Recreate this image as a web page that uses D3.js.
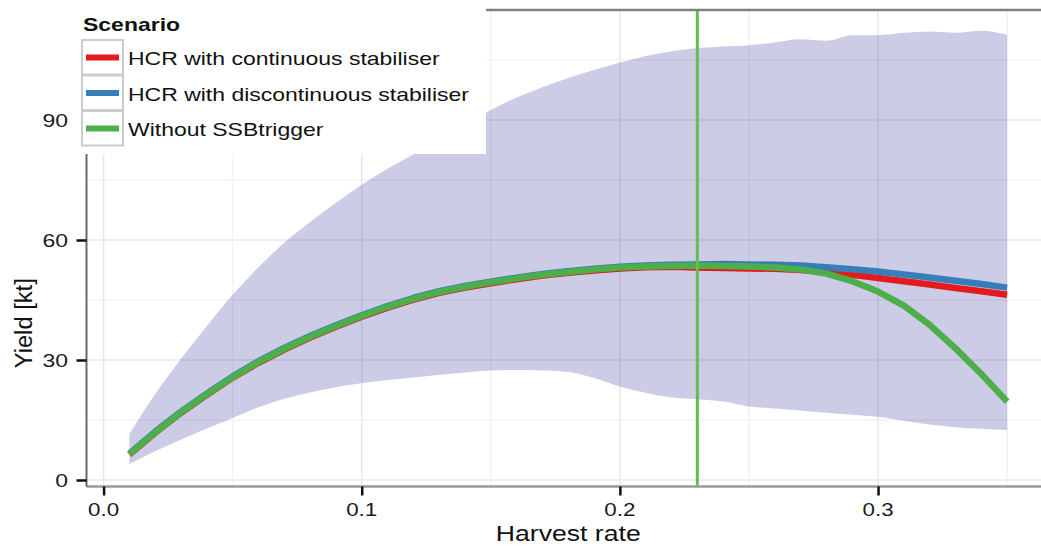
<!DOCTYPE html>
<html>
<head>
<meta charset="utf-8">
<script src="https://cdn.jsdelivr.net/npm/d3@7/dist/d3.min.js"></script>
<style>
  html, body { margin: 0; padding: 0; background: #ffffff; }
  svg { display: block; font-family: "Liberation Sans", Arial, Helvetica, sans-serif; }
</style>
</head>
<body>
<svg id="chart" width="1041" height="548"></svg>
<script>
// Harvest rates simulated
const harvestRate = [0.01, 0.02, 0.03, 0.04, 0.05, 0.06, 0.07, 0.08, 0.09, 0.10,
  0.11, 0.12, 0.13, 0.14, 0.15, 0.16, 0.17, 0.18, 0.19, 0.20,
  0.21, 0.22, 0.23, 0.24, 0.25, 0.26, 0.27, 0.28, 0.29, 0.30,
  0.31, 0.32, 0.33, 0.34, 0.35];

// Median yield [kt] per scenario
const yieldContinuous = [6.4, 11.8, 16.8, 21.3, 25.6, 29.3, 32.6, 35.6, 38.3, 40.8,
  43.1, 45.1, 46.8, 48.1, 49.2, 50.2, 51.1, 51.8, 52.4, 52.9,
  53.2, 53.3, 53.1, 53.0, 52.9, 52.8, 52.5, 52.0, 51.3, 50.5,
  49.7, 48.9, 48.0, 47.2, 46.3];
const yieldDiscontinuous = [6.6, 12.1, 17.1, 21.6, 25.9, 29.7, 33.0, 36.0, 38.7, 41.2,
  43.5, 45.5, 47.2, 48.5, 49.6, 50.6, 51.5, 52.2, 52.8, 53.3,
  53.6, 53.8, 53.9, 54.0, 53.9, 53.8, 53.6, 53.2, 52.7, 52.1,
  51.4, 50.6, 49.8, 49.0, 48.1];
const yieldNoTrigger = [6.5, 11.9, 16.9, 21.4, 25.7, 29.5, 32.8, 35.8, 38.5, 41.0,
  43.3, 45.3, 47.0, 48.3, 49.4, 50.4, 51.3, 52.0, 52.6, 53.1,
  53.4, 53.5, 53.6, 53.5, 53.4, 53.1, 52.6, 51.6, 49.7, 47.1,
  43.6, 38.8, 32.9, 26.5, 19.6];

// 90% interval of yield [kt]
const bandLower = [4.0, 7.2, 10.1, 12.9, 15.5, 18.2, 20.3, 21.9, 23.2, 24.2,
  25.0, 25.6, 26.3, 26.9, 27.4, 27.5, 27.4, 27.0, 25.5, 23.4,
  21.8, 20.6, 20.2, 19.6, 18.4, 17.9, 17.4, 16.8, 16.3, 15.8,
  14.8, 13.9, 13.2, 12.8, 12.5];
const bandUpper = [11.5, 21.5, 30.3, 38.5, 46.3, 53.2, 59.3, 64.5, 69.3, 73.8,
  77.8, 81.4, 85.0, 88.8, 92.5, 95.6, 98.2, 100.5, 102.5, 104.3,
  106.0, 107.2, 108.0, 108.4, 108.7, 109.4, 110.2, 109.8, 111.2, 111.2,
  111.8, 112.1, 111.8, 112.3, 111.3];

// Reference harvest rate
const referenceRate = [0.23];

const scenarioNames = ["HCR with continuous stabiliser", "HCR with discontinuous stabiliser", "Without SSBtrigger"];
const scenarioColors = ["#E41A1C", "#377EB8", "#4DAF4A"];
const legendTitle = "Scenario";
const xTickValues = [0.0, 0.1, 0.2, 0.3];
const xTickLabels = ["0.0", "0.1", "0.2", "0.3"];
const yTickValues = [0, 30, 60, 90];
const yTickLabels = ["0", "30", "60", "90"];
const xMinorValues = [0.05, 0.15, 0.25, 0.35];
const yMinorValues = [15, 45, 75, 105];
const xTitle = "Harvest rate";
const yTitle = "Yield [kt]";

// ---- layout ----
const SX = 1.21;               // horizontal text stretch
const svg = d3.select("#chart");
const x = d3.scaleLinear().domain([-0.007, 0.367]).range([85.5, 1051]);
const y = d3.scaleLinear().domain([-1.375, 117.6]).range([485.5, 9.6]);
const [px0, px1] = x.range();
const [py0, py1] = y.range();

function stretchedText(g, tx, ty, str, opts) {
  const t = g.append("text")
    .attr("transform", `translate(${tx},${ty}) scale(${SX},1)`)
    .attr("text-anchor", opts.anchor || "start")
    .attr("font-size", opts.size)
    .attr("fill", opts.fill || "#1a1a1a")
    .text(str);
  if (opts.bold) t.attr("font-weight", "bold");
  return t;
}

// ---- grid ----
const grid = svg.append("g");
grid.selectAll("line.vmin").data(xMinorValues).join("line")
  .attr("x1", d => x(d)).attr("x2", d => x(d)).attr("y1", py0).attr("y2", py1)
  .attr("stroke", "#f4f2f2").attr("stroke-width", 1.5);
grid.selectAll("line.hmin").data(yMinorValues).join("line")
  .attr("x1", px0).attr("x2", px1).attr("y1", d => y(d)).attr("y2", d => y(d))
  .attr("stroke", "#f4f2f2").attr("stroke-width", 1.5);
grid.selectAll("line.vmaj").data(xTickValues).join("line")
  .attr("x1", d => x(d)).attr("x2", d => x(d)).attr("y1", py0).attr("y2", py1)
  .attr("stroke", "#e8e8e8").attr("stroke-width", 1.5);
grid.selectAll("line.hmaj").data(yTickValues).join("line")
  .attr("x1", px0).attr("x2", px1).attr("y1", d => y(d)).attr("y2", d => y(d))
  .attr("stroke", "#e8e8e8").attr("stroke-width", 1.5);

// ---- ribbon ----
const band = harvestRate.map((f, i) => ({ f, lo: bandLower[i], hi: bandUpper[i] }));
svg.append("path")
  .datum(band)
  .attr("d", d3.area().curve(d3.curveMonotoneX).x(d => x(d.f)).y0(d => y(d.lo)).y1(d => y(d.hi)))
  .attr("fill", "navy").attr("fill-opacity", 0.2);

// ---- scenario lines ----
const series = [yieldContinuous, yieldDiscontinuous, yieldNoTrigger];
const line = d3.line().x(d => x(d[0])).y(d => y(d[1]));
series.forEach((vals, k) => {
  svg.append("path")
    .datum(harvestRate.map((f, i) => [f, vals[i]]))
    .attr("d", line)
    .attr("fill", "none")
    .attr("stroke", scenarioColors[k])
    .attr("stroke-width", 6.5)
    .attr("stroke-linejoin", "round");
});

// ---- reference harvest rate ----
svg.selectAll("line.ref").data(referenceRate).join("line")
  .attr("x1", d => x(d)).attr("x2", d => x(d)).attr("y1", py0).attr("y2", py1 + 1)
  .attr("stroke", "#66be48").attr("stroke-width", 3);

// ---- axes ----
const axisG = svg.append("g");
const xAxis = axisG.append("g").attr("transform", `translate(0,${py0 + 1})`)
  .call(d3.axisBottom(x).tickValues(xTickValues).tickSize(9).tickSizeOuter(0).tickFormat(""));
xAxis.select(".domain").attr("stroke", "#9a9a9a").attr("stroke-width", 2.5)
  .attr("d", `M${px0 + 1},0H1041`);
xAxis.selectAll(".tick line").attr("stroke", "#111").attr("stroke-width", 2.5);

const yAxis = axisG.append("g").attr("transform", `translate(86.5,0)`)
  .call(d3.axisLeft(y).tickValues(yTickValues).tickSize(10).tickSizeOuter(0).tickFormat(""));
yAxis.select(".domain").attr("stroke", "#6a6a6a").attr("stroke-width", 2)
  .attr("d", `M0,${py1}V${py0 + 1}`);
yAxis.selectAll(".tick line").attr("stroke", "#111").attr("stroke-width", 2.5);

// panel top border
axisG.append("line").attr("x1", 486).attr("x2", 1041).attr("y1", 10).attr("y2", 10)
  .attr("stroke", "#808080").attr("stroke-width", 2.5);

// tick labels
const labels = svg.append("g");
xTickValues.forEach((v, i) => stretchedText(labels, x(v), 516, xTickLabels[i], { anchor: "middle", size: 18.5 }));
yTickValues.forEach((v, i) => stretchedText(labels, 68, y(v) + 7, yTickLabels[i], { anchor: "end", size: 19 }));

// axis titles
stretchedText(labels, (px0 + 1041 + 10) / 2, 541, xTitle, { anchor: "middle", size: 22, fill: "#111" });
svg.append("text")
  .attr("transform", `translate(32,${(py0 + 155) / 2 + 3}) rotate(-90)`)
  .attr("text-anchor", "middle").attr("font-size", 23).attr("fill", "#111")
  .attr("textLength", 90).attr("lengthAdjust", "spacingAndGlyphs")
  .text(yTitle);

// ---- legend ----
const legend = svg.append("g");
legend.append("rect").attr("x", 74).attr("y", 0).attr("width", 412).attr("height", 154).attr("fill", "#ffffff");
stretchedText(legend, 83, 31, legendTitle, { size: 19, bold: true, fill: "#111" });
const keyTop = [40, 75.5, 111];
scenarioNames.forEach((name, i) => {
  legend.append("rect").attr("x", 82).attr("y", keyTop[i]).attr("width", 41).attr("height", 34.5)
    .attr("fill", "#ffffff").attr("stroke", "#cccccc").attr("stroke-width", 2);
  legend.append("line").attr("x1", 86).attr("x2", 119)
    .attr("y1", keyTop[i] + 17.5).attr("y2", keyTop[i] + 17.5)
    .attr("stroke", scenarioColors[i]).attr("stroke-width", 6);
  stretchedText(legend, 128, keyTop[i] + 25, name, { size: 19, fill: "#111" });
});
</script>
</body>
</html>
